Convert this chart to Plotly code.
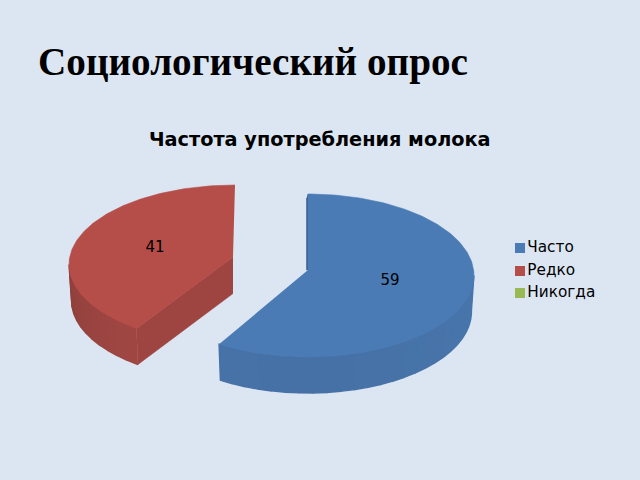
import math
import plotly.graph_objects as go

categories = ["Часто", "Редко", "Никогда"]
values = [59, 41, 0]
colors = ["#4a7bb5", "#b54d49", "#98b954"]

# wall shades, from the front of the slice out to its edge
wall_front = {"Часто": (70, 113, 166), "Редко": (161, 71, 67)}
wall_edge = {"Часто": (72, 118, 172), "Редко": (132, 59, 56)}
cut_wall = {"Часто": "#3c628f", "Редко": "#9f4541"}

# where each exploded slice sits on the page
geometry = {
    "Часто": dict(cx=308, cy=275.5, rx=166, ry=81.5, apex=(308, 270), shift=0),
    "Редко": dict(cx=235, cy=264.5, rx=166, ry=79.5, apex=(233, 257), shift=4),
}
depth = 36
legend_y = [248, 271, 293]
label_pos = {"Часто": (390, 281.5), "Редко": (155, 248.5)}


def rim(g, angle, drop=0, shrink=1.0):
    a = math.radians(angle)
    return g["cx"] + g["rx"] * shrink * math.sin(a), g["cy"] - g["ry"] * math.cos(a) + drop


def polygon(points, color, width=0.6):
    return go.Scatter(
        x=[p[0] for p in points],
        y=[p[1] for p in points],
        mode="lines",
        fill="toself",
        fillcolor=color,
        line=dict(color=color, width=width),
        hoverinfo="skip",
        showlegend=False,
    )


fig = go.Figure()

total = sum(values)
start = 0
for name, value in zip(categories, values):
    sweep = value / total * 360
    end = start + sweep
    if value > 0:
        g = geometry[name]
        first = start + g["shift"]
        apex = g["apex"]
        color = colors[categories.index(name)]

        # straight wall along the cut, only the one facing us is visible
        if first > 180:
            fig.add_trace(polygon([
                apex, rim(g, first), rim(g, first, depth, 0.985), (apex[0], apex[1] + depth + 0.5)
            ], cut_wall[name]))
        else:
            fig.add_trace(polygon([
                rim(g, first), apex, (apex[0] - 1.5, apex[1]), (rim(g, first)[0] - 1.5, rim(g, first)[1] + 4)
            ], cut_wall[name]))

        # curved outer wall in narrow strips so the shade can change
        low = max(first, 90)
        high = min(end, 270)
        steps = int((high - low) / 5) + 1
        for i in range(steps):
            a0 = low + (high - low) * i / steps
            a1 = low + (high - low) * (i + 1) / steps
            mid = (a0 + a1) / 2
            t = abs(mid - (180 if name == "Часто" else first)) / 90
            t = min(t, 1)
            front, edge = wall_front[name], wall_edge[name]
            shade = "rgb(%d,%d,%d)" % tuple(front[k] + (edge[k] - front[k]) * t for k in range(3))
            arc = [a0 + (a1 - a0) * k / 4 for k in range(5)]
            fig.add_trace(polygon(
                [rim(g, a) for a in arc] + [rim(g, a, depth, 0.985) for a in reversed(arc)],
                shade, width=1.4,
            ))

        # top face
        n = int(end - first) + 1
        arc = [first + (end - first) * k / n for k in range(n + 1)]
        fig.add_trace(polygon([apex] + [rim(g, a) for a in arc], color))

        lx, ly = label_pos[name]
        fig.add_trace(go.Scatter(
            x=[lx], y=[ly], mode="text", text=[str(value)],
            textfont=dict(family="DejaVu Sans", size=15, color="#000000"),
            hoverinfo="skip", showlegend=False,
        ))
    start = end

# legend keys
fig.add_trace(go.Scatter(
    x=[520] * len(categories),
    y=legend_y,
    mode="markers+text",
    text=categories,
    textposition="middle right",
    textfont=dict(family="DejaVu Sans", size=15.3, color="#000000"),
    marker=dict(symbol="square", size=10, color=colors),
    hoverinfo="skip",
    showlegend=False,
))

fig.add_annotation(
    text="<b>Социологический опрос</b>", x=36, y=62, xanchor="left", yanchor="middle",
    showarrow=False, font=dict(family="Liberation Serif", size=39.2, color="#000000"),
)
fig.add_annotation(
    text="<b>Частота употребления молока</b>", x=320, y=139, xanchor="center", yanchor="middle",
    showarrow=False, font=dict(family="DejaVu Sans", size=19.3, color="#000000"),
)

fig.update_xaxes(range=[0, 640], visible=False)
fig.update_yaxes(range=[480, 0], visible=False)
fig.update_layout(
    width=640,
    height=480,
    margin=dict(l=0, r=0, t=0, b=0),
    paper_bgcolor="#dce6f2",
    plot_bgcolor="#dce6f2",
)

# the page's own margin would push the chart 8px in
fig.write_html(
    "out.html",
    config={"displayModeBar": False},
    post_script="document.body.style.margin='0';document.body.style.overflow='hidden';",
)
